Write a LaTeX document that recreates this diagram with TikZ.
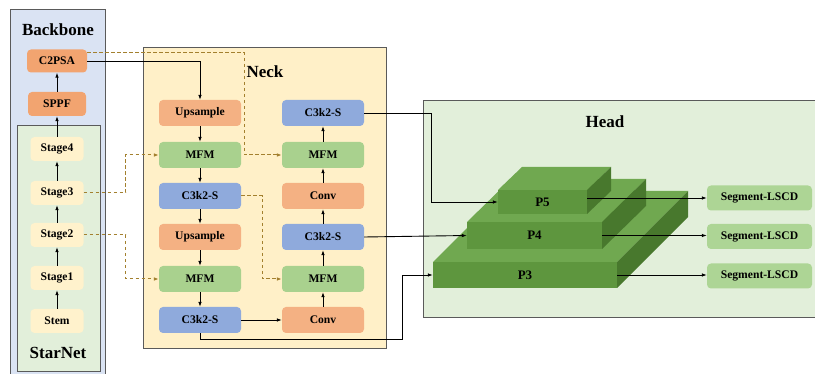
\documentclass[tikz,border=0pt]{standalone}
\usepackage{fontspec}
\setmainfont{Liberation Serif}
\usetikzlibrary{arrows.meta,calc}
\definecolor{bbbg}{HTML}{DAE3F3}
\definecolor{snbg}{HTML}{E2EFDA}
\definecolor{neckbg}{HTML}{FFF0C8}
\definecolor{headbg}{HTML}{E2EFDA}
\definecolor{orA}{HTML}{F2A470}
\definecolor{orB}{HTML}{F4B183}
\definecolor{grA}{HTML}{A9D18E}
\definecolor{blA}{HTML}{8FAADC}
\definecolor{ylA}{HTML}{FFF2CC}
\definecolor{segc}{HTML}{ADD595}
\definecolor{dashc}{HTML}{A3802E}
\definecolor{ptop}{HTML}{70A850}
\definecolor{pfront}{HTML}{5E963E}
\definecolor{pside}{HTML}{48782D}
\definecolor{panelb}{HTML}{5A5A5A}
\tikzset{
  panel/.style={draw=panelb,line width=1pt},
  box/.style={rounded corners=4pt,draw=none,font=\fontsize{11.6}{12}\selectfont\bfseries,inner sep=0pt},
  nbox/.style={box,minimum width=82pt,minimum height=26pt},
  sbox/.style={box,fill=ylA,minimum width=53pt,minimum height=24pt},
  title/.style={font=\fontsize{17}{19}\selectfont\bfseries},
  arr/.style={-{Latex[length=5pt,width=3.6pt]},line width=0.9pt,black},
  dsh/.style={-{Latex[length=5pt,width=3.6pt]},line width=1pt,dashc,dash pattern=on 3.5pt off 2.5pt},
  pface/.style={fill=pfront,draw=none,font=\fontsize{13}{14}\selectfont\bfseries,inner sep=0pt},
}
\begin{document}
\begin{tikzpicture}[x=1pt,y=-1pt]
\useasboundingbox (0,0) rectangle (815,374);
% panels
\draw[panel,fill=bbbg] (10,10) rectangle (105,376);
\draw[panel,fill=snbg] (17,126) rectangle (100,372);
\draw[panel,fill=neckbg] (143,48) rectangle (386,349);
\draw[panel,fill=headbg] (423,101) rectangle (818,318);
\node[title] (tbb) at (58,30) {Backbone};
\node[title] (tsn) at (58,353) {StarNet};
\node[title] (tneck) at (265,72) {Neck};
\node[title] (thead) at (605,122) {Head};
% backbone
\node[box,fill=orA,minimum width=60pt,minimum height=23pt] (c2psa) at (57,61) {C2PSA};
\node[box,fill=orA,minimum width=58pt,minimum height=24pt] (sppf) at (57,104) {SPPF};
\node[sbox] (st4) at (57,149) {Stage4};
\node[sbox] (st3) at (57,193) {Stage3};
\node[sbox] (st2) at (57,235) {Stage2};
\node[sbox] (st1) at (57,278) {Stage1};
\node[sbox] (stem) at (57,321) {Stem};
\draw[arr] (stem) -- (st1);
\draw[arr] (st1) -- (st2);
\draw[arr] (st2) -- (st3);
\draw[arr] (st3) -- (st4);
\draw[arr] (st4) -- (sppf);
\draw[arr] (sppf) -- (c2psa);
% neck left column
\node[nbox,fill=orB] (up1) at (200,113) {Upsample};
\node[nbox,fill=grA] (mfm1) at (200,155) {MFM};
\node[nbox,fill=blA] (c3a) at (200,196) {C3k2-S};
\node[nbox,fill=orB] (up2) at (200,237) {Upsample};
\node[nbox,fill=grA] (mfm2) at (200,279) {MFM};
\node[nbox,fill=blA] (c3b) at (200,320) {C3k2-S};
% neck right column
\node[nbox,fill=blA] (c3r1) at (323,113) {C3k2-S};
\node[nbox,fill=grA] (mfmr1) at (323,155) {MFM};
\node[nbox,fill=orB] (convr1) at (323,196) {Conv};
\node[nbox,fill=blA] (c3r2) at (323,237) {C3k2-S};
\node[nbox,fill=grA] (mfmr2) at (323,279) {MFM};
\node[nbox,fill=orB] (convr2) at (323,320) {Conv};
\draw[arr] (up1) -- (mfm1);
\draw[arr] (mfm1) -- (c3a);
\draw[arr] (c3a) -- (up2);
\draw[arr] (up2) -- (mfm2);
\draw[arr] (mfm2) -- (c3b);
\draw[arr] (c3b) -- (convr2);
\draw[arr] (convr2) -- (mfmr2);
\draw[arr] (mfmr2) -- (c3r2);
\draw[arr] (c3r2) -- (convr1);
\draw[arr] (convr1) -- (mfmr1);
\draw[arr] (mfmr1) -- (c3r1);
\draw[arr] (c2psa.east) -| (up1.north);
% dashed connections
\draw[dsh] ([yshift=8pt]c2psa.east) -- ++(157,0) |- (mfmr1.west);
\draw[dsh] (st3.east) -- ++(42,0) |- (mfm1.west);
\draw[dsh] (st2.east) -- ++(42,0) |- (mfm2.west);
\draw[dsh] (c3a.east) -- ++(21,0) |- (mfmr2.west);
% head blocks
\fill[ptop] (433,262) -- (504,191) -- (688,191) -- (617,262) -- cycle;
\fill[pside] (617,262) -- (688,191) -- (688,217) -- (617,288) -- cycle;
\node[pface,minimum width=184pt,minimum height=26pt] (p3) at (525,275) {P3};
\fill[ptop] (467,222) -- (511,179) -- (646,179) -- (602,222) -- cycle;
\fill[pside] (602,222) -- (646,179) -- (646,206) -- (602,249) -- cycle;
\node[pface,minimum width=135pt,minimum height=27pt] (p4) at (534.5,235.5) {P4};
\fill[ptop] (498,190) -- (522,167) -- (611,167) -- (587,190) -- cycle;
\fill[pside] (587,190) -- (611,167) -- (611,191) -- (587,214) -- cycle;
\node[pface,minimum width=89pt,minimum height=24pt] (p5) at (542.5,202) {P5};
% segment boxes
\node[box,fill=segc,minimum width=105pt,minimum height=25pt] (seg1) at (759.5,198) {Segment-LSCD};
\node[box,fill=segc,minimum width=105pt,minimum height=25pt] (seg2) at (759.5,236.5) {Segment-LSCD};
\node[box,fill=segc,minimum width=105pt,minimum height=25pt] (seg3) at (759.5,276) {Segment-LSCD};
% neck to head
\draw[arr] (c3r1.east) -- ++(67,0) |- (p5.west);
\draw[arr] (c3r2.east) -- (p4.west);
\draw[arr] (c3b.south) -- ++(0,6) -| ([xshift=-30pt]p3.west) -- (p3.west);
% head to segments
\draw[arr] ([yshift=4pt]p5.east) -- (seg1.west);
\draw[arr] (p4.east) -- (p4.east -| seg2.west);
\draw[arr] (p3.east) -- (p3.east -| seg3.west);
\end{tikzpicture}
\end{document}
